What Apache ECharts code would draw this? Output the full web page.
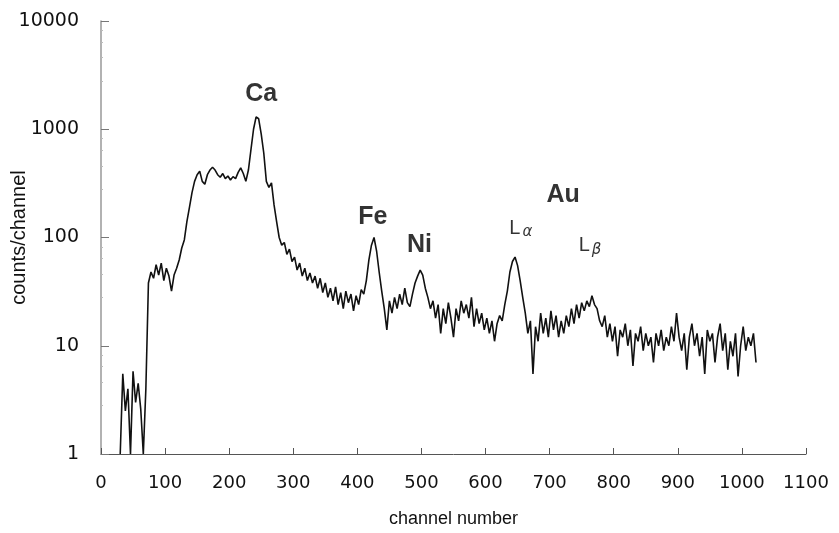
<!DOCTYPE html>
<html>
<head>
<meta charset="utf-8">
<script src="https://cdn.jsdelivr.net/npm/echarts@6/dist/echarts.min.js"></script>
<style>
html, body { margin: 0; padding: 0; background: #fff; }
#chart { width: 839px; height: 533px; }
</style>
</head>
<body>
<div id="chart"></div>
<script>
// spectrum, one value every 4 channels starting at channel 30
var firstChannel = 30;
var channelStep = 4;
var counts = [
  1, 5.5, 2.5, 4, 1, 5.8, 3, 4.5, 2.6, 1,
  4, 38, 48, 42, 56, 45, 58, 40, 52, 44,
  32, 45, 52, 62, 80, 95, 140, 190, 260, 330,
  380, 410, 330, 310, 380, 420, 445, 420, 380, 360,
  390, 350, 370, 340, 365, 350, 400, 440, 390, 330,
  420, 650, 1000, 1300, 1250, 900, 600, 330, 290, 320,
  200, 140, 100, 85, 90, 70, 78, 60, 66, 50,
  58, 44, 52, 40, 47, 38, 44, 34, 42, 31,
  38, 28, 34, 26, 35, 24, 31, 22, 32, 25,
  30, 21, 29, 24, 33, 30, 40, 62, 85, 100,
  75, 48, 32, 22, 14, 26, 20, 28, 22, 30,
  24, 34, 25, 23, 30, 38, 44, 50, 45, 34,
  28, 22, 26, 18, 24, 13, 22, 16, 25, 18,
  12, 22, 17, 26, 20, 24, 18, 28, 15, 22,
  16, 20, 14, 18, 13, 17, 11, 16, 19, 17,
  24, 32, 48, 60, 66, 55, 40, 28, 20, 13,
  17, 5.5, 15, 11, 20, 13, 18, 12, 21, 14,
  19, 12, 17, 13, 19, 15, 22, 16, 24, 18,
  25, 21, 26, 23, 29, 24, 22, 17, 15, 19,
  12, 16, 11, 15, 8, 14, 12, 16, 10, 14,
  6.5, 13, 11, 15, 9, 13, 10, 12, 7, 13,
  10, 14, 9, 12, 10, 15, 11, 20, 12, 9,
  13, 6, 12, 16, 10, 13, 8, 12, 5.5, 14,
  11, 13, 7, 12, 16, 9, 13, 6, 11, 8,
  13, 5.2, 10, 15, 9, 12, 10, 13, 7
];

var xTicks = [0, 1100, 100];
var yRange = [1, 10000];

// peak annotations: [channel, counts, text]
var elementLabels = [
  [250, 2120, 'Ca'],
  [424, 155, 'Fe'],
  [497, 85, 'Ni'],
  [721, 246, 'Au']
];
var lineLabels = [
  [655, 122, 'L', 'α'],
  [763, 84, 'L', 'β']
];

var spectrum = counts.map(function (v, i) {
  return [firstChannel + i * channelStep, v];
});

var chart = echarts.init(document.getElementById('chart'));
chart.setOption({
  animation: false,
  textStyle: { fontFamily: 'Liberation Sans, Arial, sans-serif' },
  grid: { left: 101, right: 33, top: 21, bottom: 79, containLabel: false, outerBoundsMode: 'none' },
  xAxis: {
    type: 'value',
    min: xTicks[0],
    max: xTicks[1],
    interval: xTicks[2],
    name: 'channel number',
    nameLocation: 'middle',
    nameGap: 56,
    nameMoveOverlap: false,
    nameTextStyle: { fontSize: 18, color: '#111', fontFamily: 'Liberation Sans' },
    axisLine: { lineStyle: { color: '#555', width: 1 } },
    axisTick: { inside: true, length: 6, lineStyle: { color: '#555' } },
    axisLabel: {
      fontSize: 18, color: '#111', margin: 20, fontFamily: 'DejaVu Sans',
      formatter: function (v) { return String(v); }
    },
    splitLine: { show: false }
  },
  yAxis: {
    type: 'log',
    logBase: 10,
    min: yRange[0],
    max: yRange[1],
    name: 'counts/channel',
    nameLocation: 'middle',
    nameRotate: 90,
    nameGap: 72,
    nameMoveOverlap: false,
    nameTextStyle: { fontSize: 20, color: '#111', fontFamily: 'Liberation Sans' },
    axisLine: { show: true, lineStyle: { color: '#999', width: 1.5 } },
    axisTick: { inside: true, length: 8, lineStyle: { color: '#777' } },
    minorTick: { show: true, splitNumber: 5, length: 2, lineStyle: { color: '#bbb' } },
    axisLabel: {
      fontSize: 19, color: '#111', margin: 22, fontFamily: 'DejaVu Sans',
      formatter: function (v) { return String(v); }
    },
    splitLine: { show: false }
  },
  series: [
    {
      type: 'line',
      data: spectrum,
      symbol: 'none',
      lineStyle: { color: '#111', width: 1.6 }
    },
    {
      type: 'scatter',
      data: elementLabels,
      symbolSize: 0,
      silent: true,
      label: {
        show: true,
        position: 'inside',
        formatter: function (p) { return p.data[2]; },
        fontSize: 25,
        fontWeight: 'bold',
        color: '#000',
        fontFamily: 'Liberation Sans'
      }
    },
    {
      type: 'scatter',
      data: lineLabels,
      symbolSize: 0,
      silent: true,
      label: {
        show: true,
        position: 'inside',
        formatter: function (p) { return '{l|' + p.data[2] + '}{s|' + p.data[3] + '}'; },
        rich: {
          l: { fontSize: 20, color: '#000', fontFamily: 'Liberation Sans' },
          s: { fontSize: 15, color: '#000', fontStyle: 'italic', fontFamily: 'DejaVu Sans', padding: [8, 0, 0, 2] }
        }
      }
    }
  ]
});
</script>
</body>
</html>
